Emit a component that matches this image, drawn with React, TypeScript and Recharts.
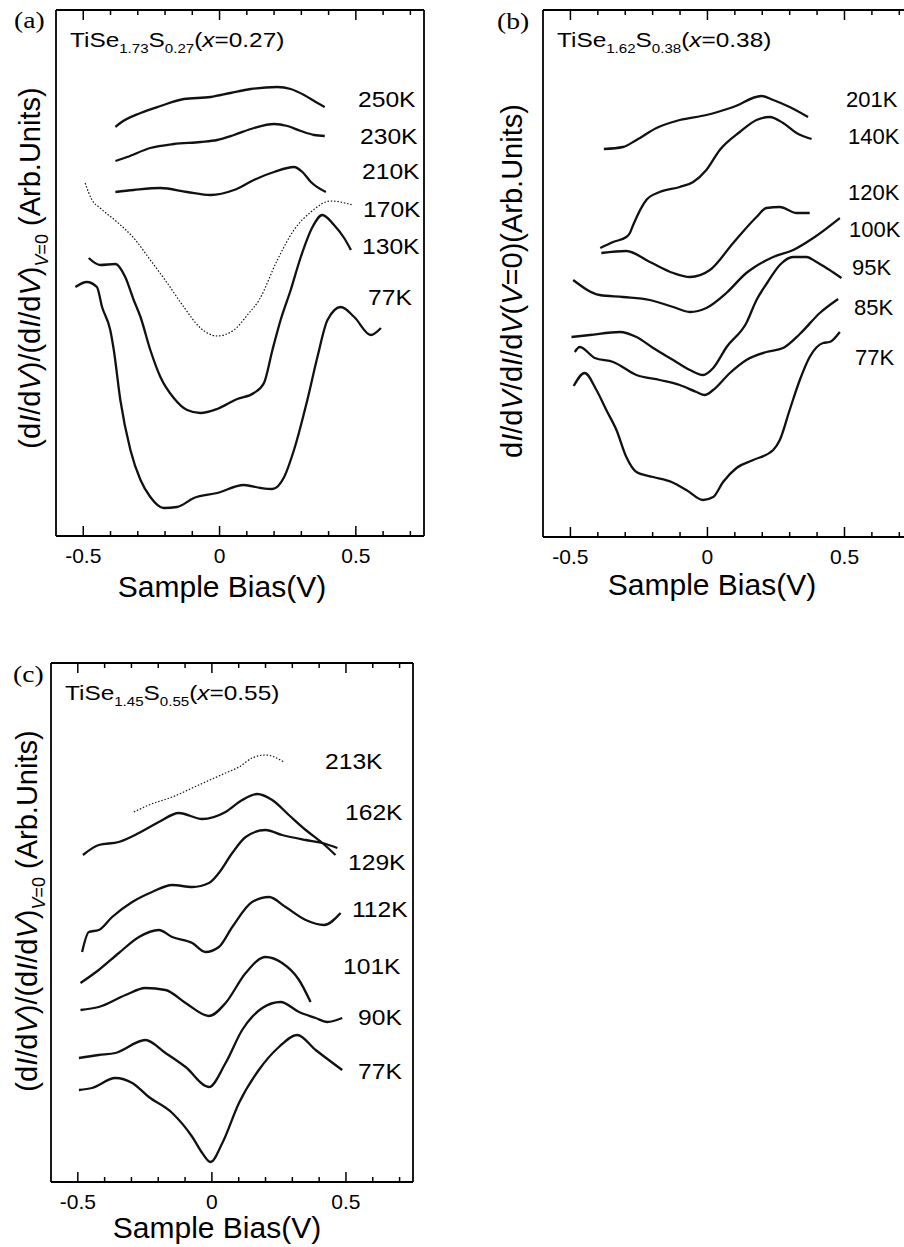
import React from 'react';
import { LineChart, Line, XAxis, YAxis } from 'recharts';

const SANS = '"Liberation Sans", Arial, Helvetica, sans-serif';
const SERIF = '"Liberation Serif", "DejaVu Serif", serif';

const TICKS = [-0.5, -0.4, -0.3, -0.2, -0.1, 0, 0.1, 0.2, 0.3, 0.4, 0.5, 0.6, 0.7];
const MAJOR_TICKS = [-0.5, 0, 0.5];
const MAJOR_LABELS = ['-0.5', '0', '0.5'];
const X_DOMAIN: [number, number] = [-0.6, 0.75];

// [sample bias (V), dI/dV (arb. units)]
// panel (a) TiSe1.73S0.27
const A250 = [[-0.382, 409], [-0.364, 413], [-0.29, 423], [-0.217, 430], [-0.131, 437], [-0.033, 439], [0.04, 443], [0.114, 447], [0.212, 449], [0.261, 447], [0.31, 441], [0.353, 434], [0.386, 429]];
const A230 = [[-0.382, 375], [-0.339, 379], [-0.254, 388], [-0.168, 392], [-0.07, 394], [-0.009, 396], [0.053, 401], [0.126, 408], [0.2, 412], [0.249, 410], [0.298, 405], [0.347, 401], [0.386, 400]];
const A210 = [[-0.382, 344], [-0.315, 346], [-0.217, 348], [-0.119, 344], [-0.033, 341], [0.053, 346], [0.126, 356], [0.2, 364], [0.273, 369], [0.304, 364], [0.335, 354], [0.39, 344]];
const A170 = [[-0.493, 353], [-0.468, 336], [-0.438, 328], [-0.376, 314], [-0.315, 298], [-0.254, 276], [-0.192, 253], [-0.131, 229], [-0.07, 208], [-0.009, 200], [0.053, 206], [0.102, 221], [0.145, 236], [0.212, 276], [0.273, 306], [0.335, 324], [0.408, 335], [0.488, 331]];
const A130 = [[-0.48, 278], [-0.438, 271], [-0.382, 272], [-0.346, 259], [-0.315, 236], [-0.29, 219], [-0.254, 186], [-0.217, 159], [-0.168, 138], [-0.119, 126], [-0.07, 123], [-0.009, 127], [0.065, 137], [0.126, 143], [0.163, 153], [0.194, 186], [0.224, 216], [0.261, 246], [0.298, 279], [0.341, 309], [0.377, 321], [0.42, 311], [0.457, 298], [0.482, 286]];
const A77 = [[-0.529, 249], [-0.487, 254], [-0.45, 249], [-0.431, 229], [-0.401, 206], [-0.388, 186], [-0.364, 136], [-0.327, 86], [-0.29, 56], [-0.254, 39], [-0.205, 28], [-0.156, 29], [-0.094, 38], [-0.009, 43], [0.089, 51], [0.151, 48], [0.194, 47], [0.237, 59], [0.273, 86], [0.322, 136], [0.359, 179], [0.396, 216], [0.445, 229], [0.494, 219], [0.555, 201], [0.592, 208]];

// panel (b) TiSe1.62S0.38
const B201 = [[-0.378, 388], [-0.308, 390], [-0.259, 397], [-0.186, 409], [-0.101, 417], [-0.004, 422], [0.094, 430], [0.197, 441], [0.24, 437], [0.3, 430], [0.367, 420]];
const B140 = [[-0.391, 289], [-0.344, 295], [-0.296, 300], [-0.283, 304], [-0.271, 312], [-0.223, 337], [-0.174, 345], [-0.101, 350], [-0.052, 355], [-0.004, 367], [0.045, 387], [0.118, 405], [0.179, 417], [0.227, 420], [0.276, 414], [0.325, 404], [0.38, 398]];
const B120 = [[-0.387, 284], [-0.296, 286], [-0.21, 275], [-0.125, 264], [-0.064, 260], [0.009, 267], [0.094, 294], [0.179, 320], [0.215, 329], [0.264, 330], [0.325, 324], [0.373, 324]];
const B100 = [[-0.49, 257], [-0.393, 242], [-0.308, 240], [-0.21, 237], [-0.125, 230], [-0.064, 225], [-0.004, 229], [0.069, 244], [0.142, 264], [0.167, 269], [0.24, 280], [0.313, 287], [0.386, 299], [0.483, 319]];
const B95 = [[-0.496, 200], [-0.429, 202], [-0.32, 205], [-0.259, 200], [-0.198, 189], [-0.125, 177], [-0.064, 167], [-0.016, 162], [0.021, 169], [0.07, 190], [0.142, 214], [0.179, 237], [0.22, 255], [0.264, 272], [0.313, 280], [0.361, 280], [0.398, 275], [0.44, 268], [0.489, 259]];
const B85 = [[-0.484, 185], [-0.466, 190], [-0.411, 179], [-0.344, 175], [-0.259, 162], [-0.174, 157], [-0.101, 152], [-0.04, 145], [-0.01, 142], [0.021, 147], [0.082, 164], [0.142, 177], [0.215, 185], [0.276, 189], [0.337, 203], [0.41, 224], [0.477, 238]];
const B77 = [[-0.488, 151], [-0.448, 164], [-0.405, 147], [-0.369, 127], [-0.332, 107], [-0.296, 80], [-0.259, 65], [-0.198, 60], [-0.131, 55], [-0.077, 47], [-0.016, 37], [0.021, 40], [0.057, 55], [0.106, 69], [0.167, 77], [0.24, 87], [0.264, 97], [0.3, 127], [0.337, 157], [0.373, 180], [0.422, 194], [0.446, 195], [0.483, 205]];

// panel (c) TiSe1.45S0.55
const C213 = [[-0.291, 370], [-0.235, 377], [-0.148, 385], [-0.049, 397], [0.051, 409], [0.101, 415], [0.15, 424], [0.2, 427], [0.269, 420]];
const C162 = [[-0.481, 327], [-0.422, 337], [-0.347, 340], [-0.272, 349], [-0.198, 360], [-0.123, 369], [-0.036, 363], [0.051, 370], [0.113, 382], [0.169, 388], [0.225, 382], [0.287, 367], [0.35, 352], [0.412, 339], [0.461, 327]];
const C129 = [[-0.484, 230], [-0.459, 250], [-0.422, 252], [-0.372, 265], [-0.297, 280], [-0.223, 290], [-0.148, 297], [-0.073, 295], [-0.011, 299], [0.026, 309], [0.076, 329], [0.126, 345], [0.2, 352], [0.262, 347], [0.35, 342], [0.412, 339], [0.468, 334]];
const C112 = [[-0.49, 199], [-0.422, 212], [-0.347, 229], [-0.272, 245], [-0.198, 252], [-0.148, 245], [-0.073, 239], [-0.024, 230], [0.026, 235], [0.076, 255], [0.15, 280], [0.213, 285], [0.275, 275], [0.35, 262], [0.418, 257], [0.48, 269]];
const C101 = [[-0.49, 172], [-0.422, 175], [-0.322, 187], [-0.248, 194], [-0.173, 192], [-0.098, 179], [-0.011, 166], [0.051, 179], [0.126, 209], [0.2, 225], [0.262, 219], [0.325, 202], [0.368, 180]];
const C90 = [[-0.496, 124], [-0.422, 127], [-0.36, 129], [-0.248, 142], [-0.173, 129], [-0.098, 115], [-0.011, 95], [0.051, 119], [0.113, 152], [0.188, 174], [0.256, 180], [0.325, 170], [0.387, 164], [0.43, 160], [0.486, 164]];
const C77 = [[-0.496, 92], [-0.447, 94], [-0.36, 104], [-0.297, 99], [-0.235, 85], [-0.148, 69], [-0.073, 45], [-0.036, 29], [-0.005, 20], [0.039, 39], [0.101, 79], [0.175, 112], [0.25, 135], [0.318, 147], [0.387, 132], [0.486, 112]];

const A_TEMPS = ['250K', '230K', '210K', '170K', '130K', '77K'];
const B_TEMPS = ['201K', '140K', '120K', '100K', '95K', '85K', '77K'];
const C_TEMPS = ['213K', '162K', '129K', '112K', '101K', '90K', '77K'];

// label anchor points on the page (left x, middle y)
const A_TEMP_POS = [[358, 100], [360, 137], [362, 172], [363, 210], [362, 247], [368, 298]];
const B_TEMP_POS = [[846, 100], [848, 137], [848, 193], [849, 230], [852, 268], [854, 308], [855, 358]];
const C_TEMP_POS = [[325, 762], [345, 813], [348, 863], [352, 910], [343, 967], [358, 1018], [358, 1072]];

// plot frames on the page: [left, right, top, bottom]
const FRAMES = [[56, 913 - 489, 10, 536], [543, 913, 10, 537], [51, 413, 663, 1182]];

const AXIS_LINE = { stroke: '#000', strokeWidth: 1.8 };
const MAJOR_LEN = 10;
const MINOR_LEN = 5;

const toPts = (arr: number[][]) => arr.map(([v, y]) => ({ v, y }));
const majorIndex = (v: number) => MAJOR_TICKS.findIndex((m) => Math.abs(m - v) < 1e-6);
const tickLen = (v: number) => (majorIndex(v) >= 0 ? MAJOR_LEN : MINOR_LEN);

// tickSize is 1 and tickMargin 0, so the axis line is 1px above the y we get
const TickLabel = (props: any) => {
  const { x, y, payload } = props;
  const i = majorIndex(payload.value);
  if (i < 0) return <g />;
  return (
    <text x={x} y={y + 26} textAnchor="middle" fontSize={21} fontFamily={SANS} fill="#000">
      {MAJOR_LABELS[i]}
    </text>
  );
};

// inward tick marks on the top and bottom frame edges, on the same linear x range as the charts
const FrameTicks = () => (
  <svg width={904} height={1247} style={{ position: 'absolute', left: 0, top: 0, pointerEvents: 'none' }}>
    {FRAMES.map(([l, r, t, b], f) =>
      TICKS.map((v) => {
        const x = l + ((v - X_DOMAIN[0]) / (X_DOMAIN[1] - X_DOMAIN[0])) * (r - l);
        const len = tickLen(v);
        return (
          <g key={f + '_' + v}>
            <line x1={x} x2={x} y1={b} y2={b - len} stroke="#000" strokeWidth={1.5} />
            <line x1={x} x2={x} y1={t} y2={t + len} stroke="#000" strokeWidth={1.5} />
          </g>
        );
      })
    )}
  </svg>
);

type Series = { data: number[][]; thin?: boolean };

// axes of width/height 1 so that Recharts still draws their lines (the plot frame)
const Panel = ({ left, top, width, height, margin, yMax, series }: any) => (
  <div style={{ position: 'absolute', left, top }}>
    <LineChart width={width} height={height} margin={margin}>
      <XAxis xAxisId="b" dataKey="v" type="number" domain={X_DOMAIN} ticks={TICKS} interval={0}
        allowDataOverflow tickLine={false} tickSize={1} tickMargin={0} height={30}
        axisLine={AXIS_LINE} tick={TickLabel} />
      <XAxis xAxisId="t" orientation="top" dataKey="v" type="number" domain={X_DOMAIN} ticks={TICKS}
        allowDataOverflow tickLine={false} tick={false} height={1} axisLine={AXIS_LINE} />
      <YAxis yAxisId="l" type="number" domain={[0, yMax]} allowDataOverflow width={1}
        tick={false} tickLine={false} axisLine={AXIS_LINE} />
      <YAxis yAxisId="r" orientation="right" type="number" domain={[0, yMax]} allowDataOverflow
        width={1} tick={false} tickLine={false} axisLine={AXIS_LINE} />
      {series.map((s: Series, i: number) => (
        <Line key={i} xAxisId="b" yAxisId="l" data={toPts(s.data)} dataKey="y" type="monotone"
          stroke="#111" strokeWidth={s.thin ? 1.2 : 2.3} strokeDasharray={s.thin ? '1.5 1.8' : undefined}
          dot={false} isAnimationActive={false} />
      ))}
    </LineChart>
  </div>
);

const Sub = ({ children }: any) => (
  <span style={{ fontSize: '0.62em', position: 'relative', top: '0.45em', lineHeight: 0 }}>{children}</span>
);

const Formula = ({ left, top, se, s, x }: any) => (
  <div style={{ position: 'absolute', left, top, fontSize: 21, lineHeight: '21px', fontFamily: SANS,
    whiteSpace: 'nowrap', transform: 'scaleX(1.16)', transformOrigin: '0 0' }}>
    TiSe<Sub>{se}</Sub>S<Sub>{s}</Sub>(<i>x</i>={x})
  </div>
);

const Letter = ({ left, top, text }: any) => (
  <div style={{ position: 'absolute', left, top, fontSize: 23, lineHeight: 1, fontFamily: SERIF,
    whiteSpace: 'nowrap', transform: 'scaleX(1.2)', transformOrigin: '0 0' }}>{text}</div>
);

const Title = ({ cx, top }: any) => (
  <div style={{ position: 'absolute', left: cx, top, transform: 'translateX(-50%)', fontSize: 30,
    lineHeight: 1, fontFamily: SANS, whiteSpace: 'nowrap' }}>Sample Bias(V)</div>
);

const YLabel = ({ cx, cy, children }: any) => (
  <div style={{ position: 'absolute', left: cx, top: cy, transform: 'translate(-50%, -50%) rotate(-90deg)',
    fontSize: 29, lineHeight: 1, fontFamily: SANS, whiteSpace: 'nowrap' }}>{children}</div>
);

const Temps = ({ labels, pos, stretch }: any) => (
  <>
    {labels.map((t: string, i: number) => (
      <div key={t + i} style={{ position: 'absolute', left: pos[i][0], top: pos[i][1], fontSize: 22,
        lineHeight: 1, fontFamily: SANS, whiteSpace: 'nowrap', transform: `translateY(-50%) scaleX(${stretch})`,
        transformOrigin: '0 50%' }}>{t}</div>
    ))}
  </>
);

export default function App() {
  return (
    <div style={{ position: 'absolute', left: 0, top: 0, width: 904, height: 1247, overflow: 'hidden',
      background: '#fff', color: '#000' }}>
      <Panel left={0} top={0} width={450} height={620} yMax={526}
        margin={{ top: 9, left: 55, right: 25, bottom: 54 }}
        series={[{ data: A250 }, { data: A230 }, { data: A210 }, { data: A170, thin: true }, { data: A130 }, { data: A77 }]} />
      <Panel left={480} top={0} width={453} height={620} yMax={527}
        margin={{ top: 9, left: 62, right: 19, bottom: 53 }}
        series={[{ data: B201 }, { data: B140 }, { data: B120 }, { data: B100 }, { data: B95 }, { data: B85 }, { data: B77 }]} />
      <Panel left={0} top={630} width={440} height={617} yMax={519}
        margin={{ top: 32, left: 50, right: 26, bottom: 35 }}
        series={[{ data: C213, thin: true }, { data: C162 }, { data: C129 }, { data: C112 }, { data: C101 }, { data: C90 }, { data: C77 }]} />

      <FrameTicks />

      <Letter left={14} top={9} text="(a)" />
      <Letter left={497} top={10} text="(b)" />
      <Letter left={13} top={663} text="(c)" />

      <Formula left={70} top={29} se="1.73" s="0.27" x="0.27" />
      <Formula left={557} top={29} se="1.62" s="0.38" x="0.38" />
      <Formula left={65} top={682} se="1.45" s="0.55" x="0.55" />

      <YLabel cx={30} cy={268}>
        (d<i>I</i>/d<i>V</i>)/(d<i>I</i>/d<i>V</i>)<Sub><i>V</i>=0</Sub> (Arb.Units)
      </YLabel>
      <YLabel cx={512} cy={281}>
        d<i>I</i>/d<i>V</i>/d<i>I</i>/d<i>V</i>(<i>V</i>=0)(Arb.Units)
      </YLabel>
      <YLabel cx={27} cy={911}>
        (d<i>I</i>/d<i>V</i>)/(d<i>I</i>/d<i>V</i>)<Sub><i>V</i>=0</Sub> (Arb.Units)
      </YLabel>

      <Title cx={222} top={572} />
      <Title cx={712} top={570} />
      <Title cx={217} top={1213} />

      <Temps labels={A_TEMPS} pos={A_TEMP_POS} stretch={1.12} />
      <Temps labels={B_TEMPS} pos={B_TEMP_POS} stretch={1} />
      <Temps labels={C_TEMPS} pos={C_TEMP_POS} stretch={1.12} />
    </div>
  );
}
